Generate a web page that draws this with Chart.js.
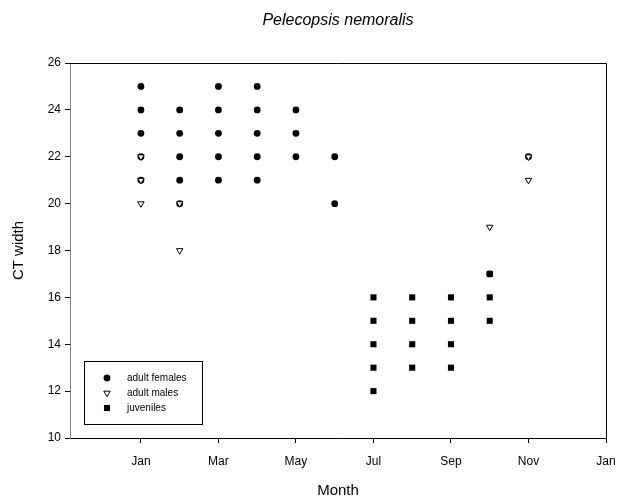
<!DOCTYPE html>
<html>
<head>
<meta charset="utf-8">
<script src="https://cdn.jsdelivr.net/npm/chart.js@4/dist/chart.umd.min.js"></script>
<style>
  html, body { margin: 0; padding: 0; background: #fff; }
  #wrap { width: 618px; height: 500px; }
</style>
</head>
<body>
<div id="wrap"><canvas id="c" width="618" height="500"></canvas></div>
<script>
// month index: Jan = 0 ... next Jan = 12
const tickMonths = [0, 2, 4, 6, 8, 10, 12];
const tickLabels = ['Jan', 'Mar', 'May', 'Jul', 'Sep', 'Nov', 'Jan'];

const femaleMonth = [0, 0, 0, 0, 0, 1, 1, 1, 1, 1, 2, 2, 2, 2, 2, 3, 3, 3, 3, 3, 4, 4, 4, 5, 5, 9, 10];
const femaleWidth = [25, 24, 23, 22, 21, 24, 23, 22, 21, 20, 25, 24, 23, 22, 21, 25, 24, 23, 22, 21, 24, 23, 22, 22, 20, 17, 22];

const maleMonth = [0, 0, 0, 1, 1, 9, 10, 10];
const maleWidth = [22, 21, 20, 20, 18, 19, 22, 21];

const juvMonth = [6, 6, 6, 6, 6, 7, 7, 7, 7, 8, 8, 8, 8, 9, 9, 9];
const juvWidth = [16, 15, 14, 13, 12, 16, 15, 14, 13, 16, 15, 14, 13, 17, 16, 15];

const seriesNames = ['adult females', 'adult males', 'juveniles'];

const pts = (xs, ys) => xs.map((x, i) => ({ x, y: ys[i] }));

const styles = [
  { pointStyle: 'circle', pointRadius: 3.4, backgroundColor: '#000', borderColor: '#000', borderWidth: 0, rotation: 0 },
  { pointStyle: 'triangle', pointRadius: 3.7, backgroundColor: '#fff', borderColor: '#000', borderWidth: 1, rotation: 180 },
  { pointStyle: 'rect', pointRadius: 4.3, backgroundColor: '#000', borderColor: '#000', borderWidth: 0, rotation: 0 },
];

const FONT = "'Liberation Sans', Arial, sans-serif";

// frame, title and in-plot legend
const extras = {
  id: 'extras',
  afterDraw(chart) {
    const { ctx, chartArea: a } = chart;
    ctx.save();
    ctx.strokeStyle = '#000';
    ctx.lineWidth = 1;
    ctx.beginPath();
    ctx.moveTo(a.left, a.top + 0.5);
    ctx.lineTo(a.right + 0.5, a.top + 0.5);
    ctx.lineTo(a.right + 0.5, a.bottom);
    ctx.stroke();

    ctx.fillStyle = '#000';
    ctx.font = 'italic 16px ' + FONT;
    ctx.textAlign = 'center';
    ctx.textBaseline = 'middle';
    ctx.fillText('Pelecopsis nemoralis', (a.left + a.right) / 2, 21);

    // legend box
    const bx = a.left + 14, by = a.bottom - 77, bw = 118, bh = 63;
    ctx.fillStyle = '#fff';
    ctx.fillRect(bx, by, bw, bh);
    ctx.strokeRect(bx + 0.5, by + 0.5, bw, bh);
    ctx.font = '10px ' + FONT;
    ctx.textAlign = 'left';
    seriesNames.forEach((name, i) => {
      const yy = by + 17 + i * 15;
      const s = styles[i];
      ctx.fillStyle = s.backgroundColor;
      ctx.strokeStyle = s.borderColor;
      ctx.lineWidth = s.borderWidth;
      Chart.helpers.drawPoint(ctx, {
        pointStyle: s.pointStyle, radius: s.pointRadius, rotation: s.rotation, borderWidth: s.borderWidth
      }, bx + 23, yy);
      ctx.fillStyle = '#000';
      ctx.fillText(name, bx + 43, yy);
    });
    ctx.restore();
  }
};

new Chart(document.getElementById('c'), {
  type: 'scatter',
  data: {
    datasets: [
      { label: seriesNames[0], data: pts(femaleMonth, femaleWidth), order: 3, ...styles[0] },
      { label: seriesNames[1], data: pts(maleMonth, maleWidth), order: 1, ...styles[1] },
      { label: seriesNames[2], data: pts(juvMonth, juvWidth), order: 2, ...styles[2] },
    ],
  },
  options: {
    responsive: false,
    animation: false,
    layout: { padding: { top: 63, right: 12, left: 0, bottom: 0 } },
    plugins: {
      legend: { display: false },
      title: { display: false },
      tooltip: { enabled: false },
    },
    scales: {
      x: {
        type: 'linear',
        min: -1.83,
        max: 12,
        afterBuildTicks: s => { s.ticks = tickMonths.map(v => ({ value: v })); },
        afterFit: s => { s.height = 62; s.paddingLeft = 0; s.paddingRight = 0; },
        grid: { drawOnChartArea: false, drawTicks: true, tickLength: 5, tickColor: '#000' },
        border: { color: '#000', width: 1 },
        ticks: {
          color: '#000', font: { family: FONT, size: 12 }, padding: 11, maxRotation: 0,
          callback: v => tickLabels[tickMonths.indexOf(v)],
        },
        title: { display: true, text: 'Month', color: '#000', font: { family: FONT, size: 15 }, padding: { top: 8, bottom: 0 } },
      },
      y: {
        min: 10,
        max: 26,
        afterFit: s => { s.width = 70; s.paddingTop = 0; s.paddingBottom = 0; },
        grid: { drawOnChartArea: false, drawTicks: true, tickLength: 5, tickColor: '#000' },
        border: { color: '#808080', width: 1 },
        ticks: { stepSize: 2, color: '#000', font: { family: FONT, size: 12 }, padding: 4 },
        title: { display: true, text: 'CT width', color: '#000', font: { family: FONT, size: 15 }, padding: { top: 10, bottom: 0 } },
      },
    },
  },
  plugins: [extras],
});
</script>
</body>
</html>
